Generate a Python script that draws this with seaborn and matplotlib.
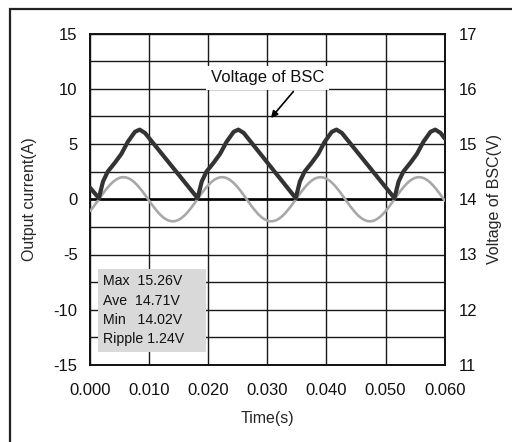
import numpy as np
import pandas as pd
import matplotlib
matplotlib.use("Agg")
import matplotlib.pyplot as plt
import seaborn as sns

# ---- data ----
# Output current (A), sampled every 0.5 ms from 0 to 60 ms
current_a = [-1.07, -0.74, -0.37, 0.00, 0.37, 0.74, 1.07, 1.37, 1.62, 1.81,
             1.94, 2.00, 1.98, 1.90, 1.75, 1.54, 1.27, 0.96, 0.62, 0.25,
             -0.13, -0.50, -0.85, -1.18, -1.46, -1.69, -1.86, -1.96, -2.00, -1.96,
             -1.86, -1.69, -1.46, -1.18, -0.85, -0.50, -0.13, 0.25, 0.62, 0.96,
             1.27, 1.54, 1.75, 1.90, 1.98, 2.00, 1.94, 1.81, 1.62, 1.37,
             1.07, 0.74, 0.37, 0.00, -0.37, -0.74, -1.07, -1.37, -1.62, -1.81,
             -1.94, -2.00, -1.98, -1.90, -1.75, -1.54, -1.27, -0.96, -0.62, -0.25,
             0.13, 0.50, 0.85, 1.18, 1.46, 1.69, 1.86, 1.96, 2.00, 1.96,
             1.86, 1.69, 1.46, 1.18, 0.85, 0.50, 0.13, -0.25, -0.62, -0.96,
             -1.27, -1.54, -1.75, -1.90, -1.98, -2.00, -1.94, -1.81, -1.62, -1.37,
             -1.07, -0.74, -0.37, 0.00, 0.37, 0.74, 1.07, 1.37, 1.62, 1.81,
             1.94, 2.00, 1.98, 1.90, 1.75, 1.54, 1.27, 0.96, 0.62, 0.25,
             -0.13]
current_time_s = np.arange(len(current_a)) * 0.0005

# Voltage of BSC (V)
voltage_time_ms = [0, 1.5, 2.2, 3.0, 4.2, 5.3, 6.4, 7.6, 8.4, 9.3,
                   18.2, 18.9, 19.7, 20.9, 22.0, 23.1, 24.3, 25.1, 26.0,
                   34.8, 35.5, 36.3, 37.5, 38.6, 39.7, 40.9, 41.7, 42.6,
                   51.5, 52.2, 53.0, 54.2, 55.3, 56.4, 57.6, 58.4, 59.3, 60.0]
voltage_v = [14.21, 14.02, 14.32, 14.50, 14.66, 14.82, 15.04, 15.22, 15.26, 15.20,
             14.02, 14.32, 14.50, 14.66, 14.82, 15.04, 15.22, 15.26, 15.20,
             14.02, 14.32, 14.50, 14.66, 14.82, 15.04, 15.22, 15.26, 15.20,
             14.02, 14.32, 14.50, 14.66, 14.82, 15.04, 15.22, 15.26, 15.20, 15.10]

x_ticks = [0.000, 0.010, 0.020, 0.030, 0.040, 0.050, 0.060]
left_ticks = [-15, -10, -5, 0, 5, 10, 15]
right_ticks = [11, 12, 13, 14, 15, 16, 17]
stats_lines = ["Max  15.26V", "Ave  14.71V", "Min   14.02V", "Ripple 1.24V"]

# ---- style ----
sns.set_style("white")
plt.rcParams['font.family'] = ['Liberation Sans', 'DejaVu Sans']
plt.rcParams['axes.unicode_minus'] = False

fig = plt.figure(figsize=(5.12, 4.42), dpi=100)
ax = fig.add_axes([90/512, 1-365/442, (444.7-90)/512, (365-33.5)/442])

df_i = pd.DataFrame({"t": current_time_s, "i": current_a})
df_v = pd.DataFrame({"t": np.array(voltage_time_ms) / 1000.0, "v": voltage_v})

ax.set_xlim(0, 0.06)
ax.set_ylim(-15, 15)
ax.set_xticks(x_ticks)
ax.set_xticklabels([f"{v:.3f}" for v in x_ticks])
ax.set_yticks(left_ticks)
ax.set_yticks(np.arange(-15, 15.1, 2.5), minor=True)
ax.grid(True, which='major', axis='both', color='#1a1a1a', lw=1.0)
ax.grid(True, which='minor', axis='y', color='#1a1a1a', lw=1.0)
ax.tick_params(axis='x', which='both', length=0, labelsize=12, colors='#111111', pad=13)
ax.tick_params(axis='y', which='both', length=0, labelsize=12, colors='#111111', pad=9)
ax.axhline(0, color='black', lw=1.9, zorder=2)
for s in ax.spines.values():
    s.set_color('#111111')
    s.set_linewidth(1.4)

sns.lineplot(data=df_i, x="t", y="i", ax=ax, color='#a8a8a8', lw=1.9,
             zorder=3, estimator=None, sort=False)
ax.set_xlabel("Time(s)", fontsize=11.5, labelpad=9)
ax.set_ylabel("Output current(A)", fontsize=11.5, labelpad=12)

ax2 = ax.twinx()
sns.lineplot(data=df_v, x="t", y="v", ax=ax2, color='#333333', lw=3.0,
             zorder=4, estimator=None, sort=False,
             solid_joinstyle='round', solid_capstyle='round')
ax2.set_ylim(11, 17)
ax2.set_yticks(right_ticks)
ax2.tick_params(length=0, labelsize=12, colors='#111111', pad=10)
ax2.set_ylabel("Voltage of BSC(V)", fontsize=11.5, labelpad=7)
ax2.grid(False)
for s in ax2.spines.values():
    s.set_visible(False)

# annotation label and arrow
ax.text(0.0300, 11.0, "Voltage of BSC", fontsize=12, ha='center', va='center',
        zorder=6, color='#111111',
        bbox=dict(boxstyle='square,pad=0.28', fc='white', ec='none'))
ax.annotate("", xy=(0.0306, 7.35), xytext=(0.0344, 9.75), zorder=6,
            arrowprops=dict(arrowstyle='-|>', color='black', lw=1.2,
                            mutation_scale=10, shrinkA=0, shrinkB=0))

# statistics box
ax.add_patch(plt.Rectangle((0.0014, -13.79), 0.01817, 7.48, fc='#d9d9d9',
                           ec='none', zorder=5))
for yv, line in zip([-7.37, -9.20, -10.92, -12.64], stats_lines):
    ax.text(0.00225, yv, line, fontsize=10.2, ha='left', va='center',
            zorder=6, color='#111111')

# outer frame
fig.add_artist(plt.Rectangle((9.5/512, -0.05), 1.1, 1.05 - 8.5/442,
                             transform=fig.transFigure, fill=False,
                             ec='#222222', lw=1.6))

fig.savefig("out.png", dpi=100)
